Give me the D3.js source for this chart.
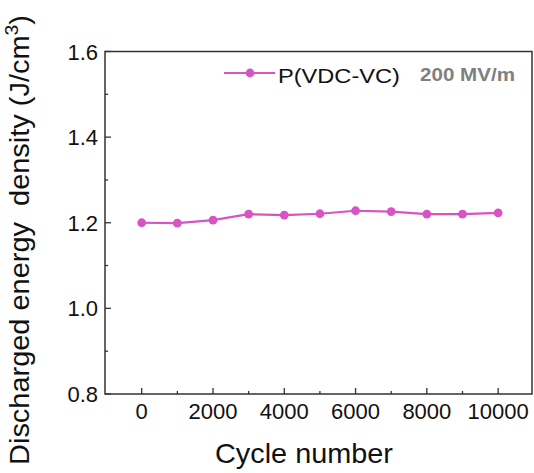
<!DOCTYPE html>
<html><head><meta charset="utf-8">
<script src="https://cdn.jsdelivr.net/npm/d3@7/dist/d3.min.js"></script>
<style>body{margin:0;background:#fff}svg{display:block}text{font-family:"Liberation Sans",Arial,sans-serif}</style>
</head><body>
<script>
const cycles = [0,1000,2000,3000,4000,5000,6000,7000,8000,9000,10000];
const energy = [1.200,1.199,1.206,1.220,1.218,1.221,1.228,1.226,1.220,1.220,1.223];
const xTicks = [0,2000,4000,6000,8000,10000];
const yTicks = [0.8,1.0,1.2,1.4,1.6];
const seriesName = "P(VDC-VC)";
const fieldLabel = "200 MV/m";

const W=534,H=473;
const m={l:105,t:51.5,r:532,b:394};
const color="#d654c4";
const svg=d3.select("body").append("svg").attr("width",W).attr("height",H);
const x=d3.scaleLinear().domain([-1030,10950]).range([m.l,m.r]);
const y=d3.scaleLinear().domain([0.8,1.6]).range([m.b,m.t]);

function fit(t, target, ax, ay){
  const w=t.node().getBBox().width;
  const s=target/w;
  t.attr("transform",`translate(${ax},${ay}) scale(${s},1) translate(${-ax},${-ay})`);
}

const xMinor=d3.range(1000,10000,2000);
const yMinor=[0.9,1.1,1.3,1.5];
const g=svg.append("g");
g.selectAll(".xmaj").data(xTicks).join("line").attr("x1",d=>x(d)).attr("x2",d=>x(d)).attr("y1",m.b).attr("y2",m.b-6).attr("stroke","#333").attr("stroke-width",1.3);
g.selectAll(".xmin").data(xMinor).join("line").attr("x1",d=>x(d)).attr("x2",d=>x(d)).attr("y1",m.b).attr("y2",m.b-3).attr("stroke","#333").attr("stroke-width",1.3);
g.selectAll(".ymaj").data(yTicks).join("line").attr("y1",d=>y(d)).attr("y2",d=>y(d)).attr("x1",m.l).attr("x2",m.l+6).attr("stroke","#333").attr("stroke-width",1.3);
g.selectAll(".ymin").data(yMinor).join("line").attr("y1",d=>y(d)).attr("y2",d=>y(d)).attr("x1",m.l).attr("x2",m.l+3).attr("stroke","#333").attr("stroke-width",1.3);

svg.append("rect").attr("x",m.l).attr("y",m.t).attr("width",m.r-m.l).attr("height",m.b-m.t).attr("fill","none").attr("stroke","#333").attr("stroke-width",1.5);

svg.selectAll(".xl").data(xTicks).join("text").attr("x",d=>x(d)).attr("y",419).attr("text-anchor","middle").attr("font-size",22).attr("fill","#111").text(d=>d);
svg.selectAll(".yl").data(yTicks).join("text").attr("x",98).attr("y",d=>y(d)+8).attr("text-anchor","end").attr("font-size",22).attr("fill","#111").text(d=>d.toFixed(1));

const xt=svg.append("text").attr("x",304).attr("y",463).attr("text-anchor","middle").attr("font-size",27).attr("fill","#111").text("Cycle number");
fit(xt,178,304,463);
const yg=svg.append("g").attr("transform","translate(29,240) rotate(-90)");
const yt=yg.append("text").attr("x",0).attr("y",0).attr("text-anchor","middle").attr("font-size",27).attr("fill","#111").attr("xml:space","preserve");
yt.append("tspan").text("Discharged energy  density (J/cm");
yt.append("tspan").attr("dy",-11).attr("font-size",18).text("3");
yt.append("tspan").attr("dy",11).text(")");
fit(yt,450,0,0);

const line=d3.line().x((d,i)=>x(cycles[i])).y(d=>y(d));
svg.append("path").datum(energy).attr("d",line).attr("fill","none").attr("stroke",color).attr("stroke-width",2.2);
svg.selectAll(".pt").data(energy).join("circle").attr("cx",(d,i)=>x(cycles[i])).attr("cy",d=>y(d)).attr("r",4.4).attr("fill",color);

svg.append("line").attr("x1",224).attr("x2",275).attr("y1",73).attr("y2",73).attr("stroke",color).attr("stroke-width",2.2);
svg.append("circle").attr("cx",250).attr("cy",73).attr("r",4.4).attr("fill",color);
const lt=svg.append("text").attr("x",278).attr("y",83).attr("font-size",21).attr("fill","#111").text(seriesName);
fit(lt,122,278,83);
const ft=svg.append("text").attr("x",420).attr("y",81).attr("font-size",17.5).attr("font-weight","bold").attr("fill","#808080").text(fieldLabel);
fit(ft,95,420,81);
</script>
</body></html>
